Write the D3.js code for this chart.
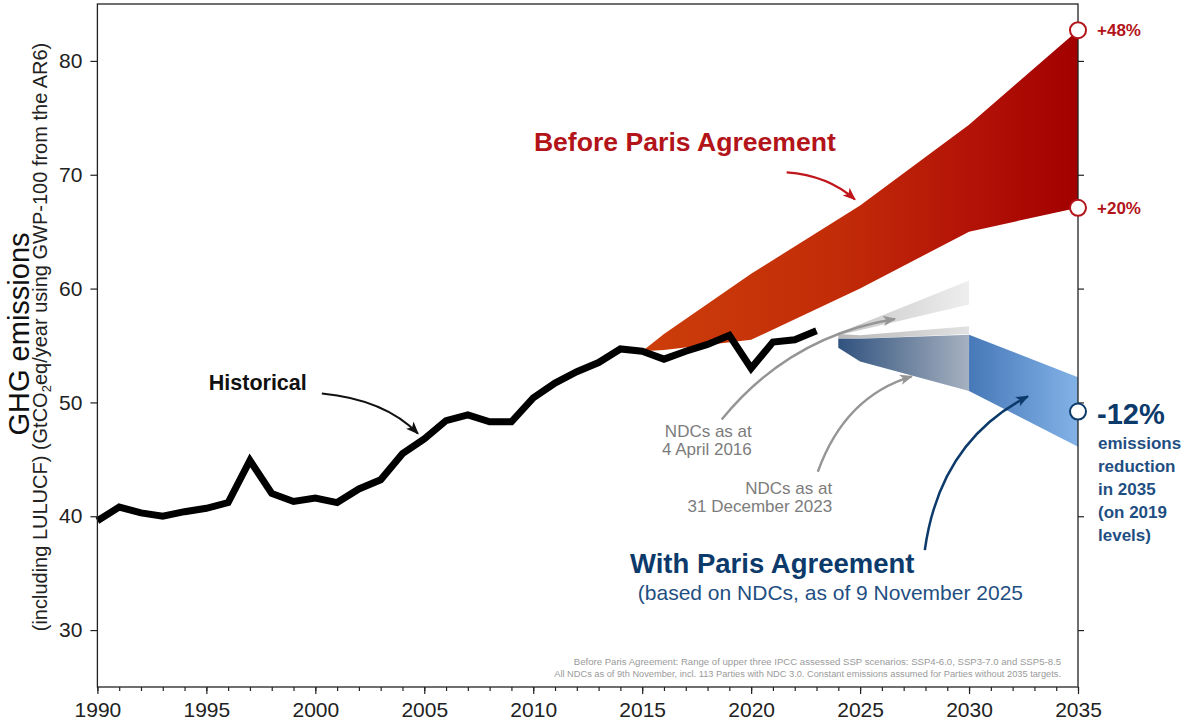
<!DOCTYPE html>
<html>
<head>
<meta charset="utf-8">
<script src="https://cdn.jsdelivr.net/npm/d3@7"></script>
<style>
  body { margin: 0; background: #fff; }
  svg { display: block; font-family: "Liberation Sans", Arial, sans-serif; }
</style>
</head>
<body>
<svg></svg>
<script>
const width = 1185;
const height = 722;

// historical emissions (GtCO2eq/yr)
const histYears = d3.range(1990, 2024);
const histValues = [39.6, 40.8, 40.3, 40.0, 40.4, 40.7, 41.2, 44.9, 42.0, 41.3,
                    41.6, 41.2, 42.4, 43.2, 45.5, 46.8, 48.4, 48.9, 48.3, 48.3,
                    50.4, 51.7, 52.7, 53.5, 54.7, 54.5, 53.8, 54.5, 55.1, 55.9,
                    53.0, 55.3, 55.5, 56.3];

// before Paris agreement range
const beforeYears = [2015, 2016, 2020, 2025, 2030, 2035];
const beforeHigh = [54.5, 56.0, 61.3, 67.3, 74.4, 82.7];
const beforeLow = [54.5, 54.6, 55.5, 60.0, 65.0, 67.1];

// NDCs as at 4 April 2016
const ndc2016Years = [2024, 2030];
const ndc2016High = [56.1, 60.7];
const ndc2016Low = [55.9, 58.6];

// NDCs as at 31 December 2023
const ndc2023Years = [2024, 2025, 2030];
const ndc2023High = [56.0, 55.9, 56.7];
const ndc2023Low = [55.6, 55.6, 56.0];

// NDCs as of 9 November 2025, up to 2030 and 2030-2035
const ndc2025Years = [2024, 2025, 2030];
const ndc2025High = [55.6, 55.6, 55.95];
const ndc2025Low = [54.8, 53.6, 51.0];
const ndc2035Years = [2030, 2035];
const ndc2035High = [55.95, 52.2];
const ndc2035Low = [51.0, 46.1];

const xTicks = [1990, 1995, 2000, 2005, 2010, 2015, 2020, 2025, 2030, 2035];
const yTicks = [30, 40, 50, 60, 70, 80];

const endMarkers = [
    { value: 82.7, label: "+48%" },
    { value: 67.1, label: "+20%" }
];
const parisMarker = 49.2;
const parisLines = ["emissions", "reduction", "in 2035", "(on 2019", "levels)"];

const x = d3.scaleLinear().domain([1990, 2035]).range([97.4, 1078]);
const y = d3.scaleLinear().domain([25, 85]).range([687, 4]);

const svg = d3.select("svg").attr("width", width).attr("height", height);
const defs = svg.append("defs");

function gradient(id, x1, x2, stops) {
    const g = defs.append("linearGradient").attr("id", id)
        .attr("gradientUnits", "userSpaceOnUse")
        .attr("x1", x1).attr("x2", x2).attr("y1", 0).attr("y2", 0);
    stops.forEach(s => g.append("stop").attr("offset", s[0]).attr("stop-color", s[1]));
}
gradient("gRed", x(2015), x(2035), [[0, "#cc3e0a"], [0.45, "#c22c08"], [0.75, "#b31307"], [1, "#a20000"]]);
gradient("gGrey1", x(2024), x(2030), [[0, "#c6c6c6"], [1, "#eeeeee"]]);
gradient("gGrey2", x(2024), x(2030), [[0, "#b8b8b8"], [1, "#e2e2e2"]]);
gradient("gSlate", x(2024), x(2030), [[0, "#30527f"], [0.5, "#6b819e"], [1, "#a6b1c1"]]);
gradient("gBlue", x(2030), x(2035), [[0, "#4778b8"], [1, "#82b2e6"]]);

function band(years, hi, lo, fill) {
    const rows = years.map((yr, i) => ({ yr, hi: hi[i], lo: lo[i] }));
    const area = d3.area().x(d => x(d.yr)).y0(d => y(d.lo)).y1(d => y(d.hi));
    svg.append("path").datum(rows).attr("d", area).attr("fill", fill);
}

band(beforeYears, beforeHigh, beforeLow, "url(#gRed)");
band(ndc2016Years, ndc2016High, ndc2016Low, "url(#gGrey1)");
band(ndc2023Years, ndc2023High, ndc2023Low, "url(#gGrey2)");
band(ndc2025Years, ndc2025High, ndc2025Low, "url(#gSlate)");
band(ndc2035Years, ndc2035High, ndc2035Low, "url(#gBlue)");

// historical line
const hist = histYears.map((yr, i) => [yr, histValues[i]]);
svg.append("path")
    .datum(hist)
    .attr("d", d3.line().x(d => x(d[0])).y(d => y(d[1])))
    .attr("fill", "none")
    .attr("stroke", "#000")
    .attr("stroke-width", 7)
    .attr("stroke-linejoin", "miter");

// axes
const xAxis = svg.append("g").attr("transform", `translate(0,${y(25)})`)
    .call(d3.axisBottom(x).tickValues(xTicks).tickFormat(d3.format("d")).tickSize(7).tickSizeOuter(0).tickPadding(8));
xAxis.selectAll("text").attr("font-size", 21).attr("fill", "#222");
svg.append("g").attr("transform", `translate(0,${y(25)})`)
    .call(d3.axisBottom(x).tickValues(d3.range(1990, 2036)).tickFormat("").tickSize(4).tickSizeOuter(0));

const yAxis = svg.append("g").attr("transform", `translate(${x(1990)},0)`)
    .call(d3.axisLeft(y).tickValues(yTicks).tickSize(7).tickSizeOuter(0).tickPadding(8));
yAxis.selectAll("text").attr("font-size", 21).attr("fill", "#222");
svg.append("g").attr("transform", `translate(${x(2035)},0)`)
    .call(d3.axisRight(y).tickValues(yTicks).tickFormat("").tickSize(6).tickSizeOuter(0));
svg.selectAll(".domain").remove();
svg.selectAll(".tick line").attr("stroke", "#222").attr("stroke-width", 1.2);

svg.append("rect")
    .attr("x", x(1990)).attr("y", y(85))
    .attr("width", x(2035) - x(1990)).attr("height", y(25) - y(85))
    .attr("fill", "none").attr("stroke", "#222").attr("stroke-width", 1.3);

// y labels
svg.append("text")
    .attr("transform", `translate(29,334) rotate(-90)`)
    .attr("text-anchor", "middle").attr("font-size", 29).attr("fill", "#111")
    .text("GHG emissions");
const sub = svg.append("text")
    .attr("transform", `translate(47,337) rotate(-90)`)
    .attr("text-anchor", "middle").attr("font-size", 20).attr("fill", "#222");
sub.append("tspan").text("(including LULUCF) (GtCO");
sub.append("tspan").attr("font-size", 13).attr("dy", 4).text("2");
sub.append("tspan").attr("dy", -4).text("eq/year using GWP-100 from the AR6)");

// arrows
function marker(id, color) {
    defs.append("marker").attr("id", id)
        .attr("viewBox", "0 0 10 10").attr("refX", 9).attr("refY", 5)
        .attr("markerWidth", 13).attr("markerHeight", 13)
        .attr("markerUnits", "userSpaceOnUse").attr("orient", "auto")
        .append("path").attr("d", "M0,1 L10,5 L0,9 L2.5,5 Z").attr("fill", color);
}
marker("mRed", "#c0161b");
marker("mBlack", "#111");
marker("mGrey", "#959595");
marker("mNavy", "#0c3a6b");

function arrow(p0, c, p1, color, mark, w) {
    const p = d3.path();
    p.moveTo(x(p0[0]), y(p0[1]));
    p.quadraticCurveTo(x(c[0]), y(c[1]), x(p1[0]), y(p1[1]));
    svg.append("path").attr("d", p.toString())
        .attr("fill", "none").attr("stroke", color).attr("stroke-width", w)
        .attr("marker-end", `url(#${mark})`);
}
arrow([2021.63, 70.21], [2023.52, 69.95], [2024.76, 67.83], "#c0161b", "mRed", 2.2);
arrow([2000.3, 50.79], [2003.19, 50.26], [2004.71, 47.26], "#111", "mBlack", 2);
arrow([2018.65, 48.5], [2021.77, 55.83], [2026.6, 57.33], "#959595", "mGrey", 2.4);
arrow([2023.06, 43.91], [2024.3, 50.53], [2027.37, 52.29], "#959595", "mGrey", 2.4);
arrow([2027.97, 37.03], [2028.66, 46.56], [2032.7, 50.53], "#0c3a6b", "mNavy", 2.5);

// annotations
svg.append("text").attr("x", x(2016.96)).attr("y", y(72.09))
    .attr("text-anchor", "middle").attr("font-size", 26.6).attr("font-weight", "bold")
    .attr("fill", "#b3141a").text("Before Paris Agreement");

svg.append("text").attr("x", x(1997.36)).attr("y", y(51.1))
    .attr("text-anchor", "middle").attr("font-size", 21.5).attr("font-weight", "bold")
    .attr("fill", "#111").text("Historical");

const grey1 = svg.append("text").attr("text-anchor", "end").attr("font-size", 17).attr("fill", "#7c7c7c");
grey1.append("tspan").attr("x", x(2020.03)).attr("y", y(47.0)).text("NDCs as at");
grey1.append("tspan").attr("x", x(2020.03)).attr("y", y(47.0) + 18).text("4 April 2016");

const grey2 = svg.append("text").attr("text-anchor", "end").attr("font-size", 17).attr("fill", "#7c7c7c");
grey2.append("tspan").attr("x", x(2023.72)).attr("y", y(41.95)).text("NDCs as at");
grey2.append("tspan").attr("x", x(2023.72)).attr("y", y(41.95) + 18).text("31 December 2023");

svg.append("text").attr("x", x(2014.44)).attr("y", y(35.0))
    .attr("font-size", 27.5).attr("font-weight", "bold").attr("fill", "#0c3a6b")
    .text("With Paris Agreement");
svg.append("text").attr("x", x(2014.8)).attr("y", y(35.0) + 27)
    .attr("font-size", 21).attr("fill", "#1f4f82")
    .text("(based on NDCs, as of 9 November 2025");

// 2035 markers and labels
endMarkers.forEach(m => {
    svg.append("circle").attr("cx", x(2035)).attr("cy", y(m.value)).attr("r", 8)
        .attr("fill", "#fff").attr("stroke", "#b3141a").attr("stroke-width", 2);
    svg.append("text").attr("x", x(2035) + 19).attr("y", y(m.value) + 6)
        .attr("font-size", 17).attr("font-weight", "bold").attr("fill", "#b3141a")
        .text(m.label);
});
svg.append("circle").attr("cx", x(2035)).attr("cy", y(parisMarker)).attr("r", 8)
    .attr("fill", "#fff").attr("stroke", "#0c3a6b").attr("stroke-width", 2);
svg.append("text").attr("x", x(2035) + 19).attr("y", y(parisMarker) + 12)
    .attr("font-size", 29).attr("font-weight", "bold").attr("fill", "#0c3a6b")
    .text("-12%");
parisLines.forEach((t, i) => {
    svg.append("text").attr("x", x(2035) + 20).attr("y", y(parisMarker) + 37 + i * 23.2)
        .attr("font-size", 17).attr("font-weight", "bold").attr("fill", "#1f4f82")
        .text(t);
});

// footnote
const foot = svg.append("g").attr("fill", "#9a9a9a").attr("text-anchor", "end");
foot.append("text").attr("x", 1061).attr("y", 665).attr("font-size", 9.6)
    .text("Before Paris Agreement: Range of upper three IPCC assessed SSP scenarios: SSP4-6.0, SSP3-7.0 and SSP5-8.5");
foot.append("text").attr("x", 1061).attr("y", 677).attr("font-size", 9.25)
    .text("All NDCs as of 9th November, incl. 113 Parties with NDC 3.0. Constant emissions assumed for Parties without 2035 targets.");
</script>
</body>
</html>
